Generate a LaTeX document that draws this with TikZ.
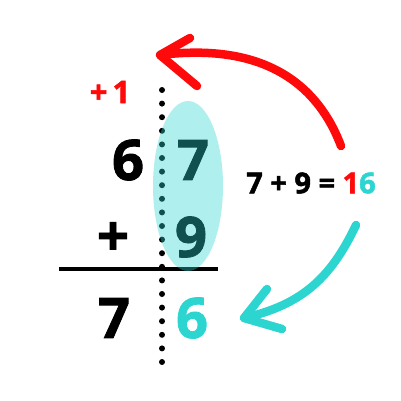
\documentclass[tikz,border=0pt]{standalone}
\usepackage{fontspec}
\setmainfont{Open Sans}[BoldFeatures={FakeBold=1.6}]
\definecolor{myred}{RGB}{255,10,10}
\definecolor{mycyan}{RGB}{44,213,208}
\begin{document}
\begin{tikzpicture}[x=1pt,y=-1pt,
  big/.style={font=\bfseries\fontsize{56}{60}\selectfont, inner sep=0pt},
  mid/.style={font=\bfseries\fontsize{29}{32}\selectfont, inner sep=0pt},
  sml/.style={font=\bfseries\fontsize{31}{34}\selectfont, inner sep=0pt},
  sketch/.style={line width=8.5pt, line cap=round, line join=round}]
\useasboundingbox (0,0) rectangle (401,400);
% digits
\node[big] (a1) at (128,160) {6};
\node[big] (a2) at (193,160) {7};
\node[big] (plus) at (113,239) {+};
\node[big] (b2) at (191,237) {9};
\node[big] (c1) at (114,318) {7};
\node[big, text=mycyan] (c2) at (192,318) {6};
\node[sml, text=myred] (carry) at (110,92) {+\,1};
\node[mid] (eq) at (311,183) {7 + 9 = \textcolor{myred}{1}\textcolor{mycyan}{6}};
% rule
\draw[line width=3.5pt] (59,269) -- (218,269);
% dotted line
\foreach \i in {0,...,20} \fill (162,90+13.6*\i) circle (3);
% ellipse
\fill[mycyan, opacity=0.38] (188,186) ellipse (35 and 85);
% red arrow
\coordinate (r0) at (341,146);
\coordinate (rt) at (160,55);
\draw[sketch, myred] (r0) .. controls (318,85) and (265,42) .. (rt);
\draw[sketch, myred] (190,38) -- (rt) -- (197,86);
% cyan arrow
\coordinate (c0) at (356,225);
\coordinate (ct) at (244,318);
\draw[sketch, mycyan] (c0) .. controls (330,280) and (300,305) .. (ct);
\draw[sketch, mycyan] (267,289) -- (ct) -- (282,329);
\end{tikzpicture}
\end{document}
